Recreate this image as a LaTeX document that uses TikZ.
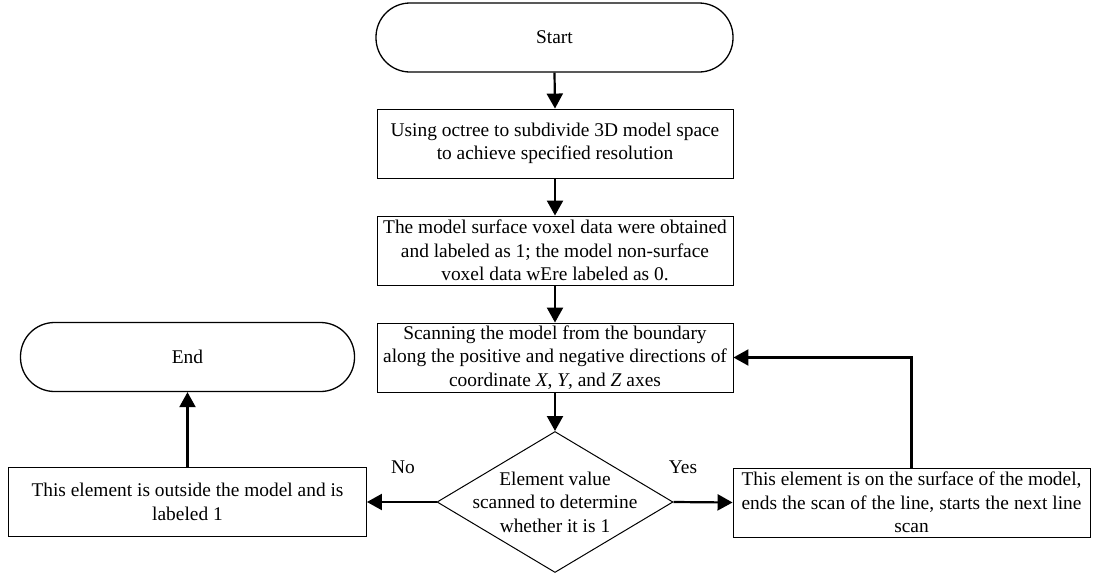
\documentclass[tikz,border=0pt]{standalone}
\usepackage{fontspec}
\setmainfont{Liberation Serif}
\usetikzlibrary{shapes.geometric,arrows.meta}
\begin{document}
\begin{tikzpicture}[x=1pt,y=-1pt,
  every node/.style={font=\fontsize{19.4}{23.5}\selectfont},
  term/.style={draw, line width=1.3pt, rounded corners=34pt, minimum width=357pt, minimum height=69pt, inner sep=0pt},
  proc/.style={draw, line width=0.9pt, minimum width=356pt, minimum height=69pt, inner sep=0pt, align=center},
  dec/.style={draw, line width=1pt, diamond, minimum width=236pt, minimum height=141pt, inner sep=0pt},
  flow/.style={line width=2.2pt, -{Triangle[length=15pt,width=16pt]}},
  lbl/.style={inner sep=0pt}
]
\useasboundingbox (0,0) rectangle (1095,579);
\node[term] (start) at (554.5,37.5) {Start};
\node[proc] (b1) at (555,143.5) {Using octree to subdivide 3D model space\\to achieve specified resolution};
\node[proc] (b2) at (555,250.5) {The model surface voxel data were obtained\\and labeled as 1; the model non-surface\\voxel data wEre labeled as 0.};
\node[proc] (b3) at (555,357.5) {Scanning the model from the boundary\\along the positive and negative directions of\\coordinate \textit{X}, \textit{Y}, and \textit{Z} axes};
\node[dec] (d) at (555,502) {};
\node[lbl, align=center] (dt) at (d.center) {Element value\\scanned to determine\\whether it is 1};
\node[proc, minimum width=358pt] (lb) at (187.5,502) {This element is outside the model and is\\labeled 1};
\node[proc, minimum width=357pt] (rb) at (911.5,502.5) {\makebox[340pt][s]{This element is on the surface of the model,}\\\makebox[340pt][s]{ends the scan of the line, starts the next line}\\scan};
\node[term, minimum width=334pt] (end) at (187.5,357) {End};
\node[lbl] (no) at (403,467) {No};
\node[lbl] (yes) at (683,467) {Yes};
\draw[flow] (start.south) -- (b1.north);
\draw[flow] (b1.south) -- (b2.north);
\draw[flow] (b2.south) -- (b3.north);
\draw[flow] (b3.south) -- (d.north);
\draw[flow] (d.west) -- (lb.east);
\draw[flow] (d.east) -- (rb.west);
\draw[flow] (lb.north) -- (end.south);
\draw[flow] (rb.north) |- (b3.east);
\end{tikzpicture}
\end{document}
